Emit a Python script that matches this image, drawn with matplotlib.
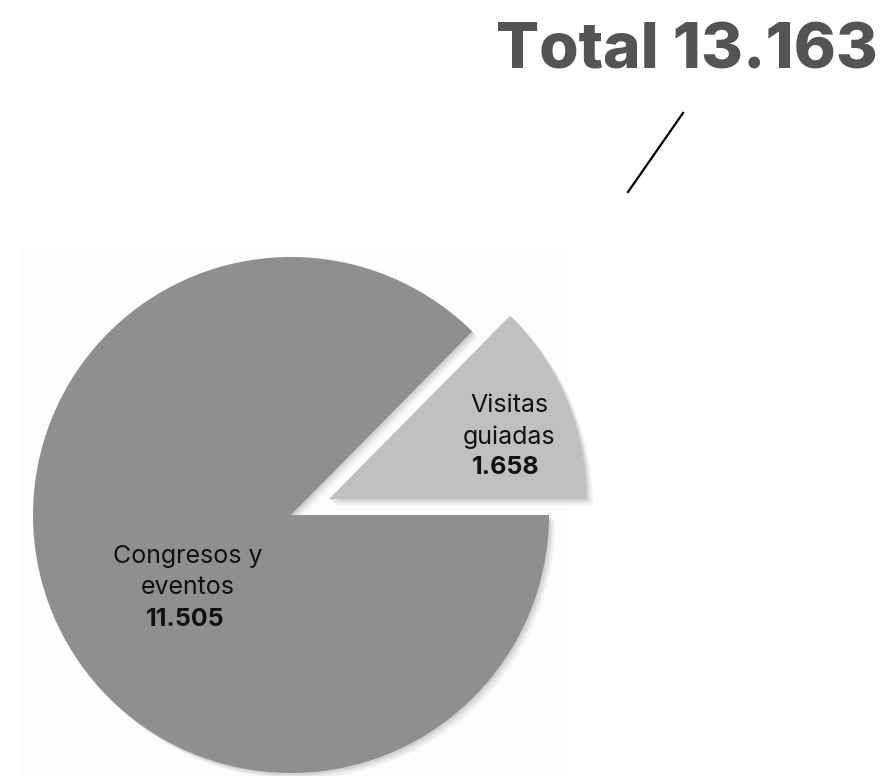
import numpy as np
import matplotlib.pyplot as plt
from matplotlib.patches import Rectangle

# data
labels = ['Visitas\nguiadas', 'Congresos y\neventos']
values = [1658, 11505]
colors = ['#c0c0c0', '#8f8f8f']
total = sum(values)

def fmt(n):
    return f'{n:,}'.replace(',', '.')

W, H = 884, 776
fig = plt.figure(figsize=(W / 100, H / 100), dpi=100)
ax = fig.add_axes([0, 0, 1, 1])
ax.set_xlim(0, W)
ax.set_ylim(0, H)
ax.set_aspect('equal')
ax.axis('off')

# faint panel behind the pie
ax.add_patch(Rectangle((20, 0), 548, H - 246, color='#fdfdfd', zorder=0))

cx, cy, r = 291, H - 515, 258
# soft shadow: a few offset copies
for off, a in [(6, 0.05), (4, 0.07), (2, 0.09)]:
    ax.pie(values, colors=['#303030'] * 2, startangle=0, counterclock=True,
           center=(cx + off, cy - off), radius=r, explode=[41, 0],
           wedgeprops={'linewidth': 0, 'alpha': a})
wedges, _ = ax.pie(values, colors=colors, startangle=0, counterclock=True,
                   center=(cx, cy), radius=r, explode=[41, 0],
                   wedgeprops={'linewidth': 0})
ax.set_xlim(0, W)
ax.set_ylim(0, H)

fnt = ['Inter', 'DejaVu Sans']
# slice labels
pos = [(509, H - 406), (188, H - 557)]
for (x, y), lab, v in zip(pos, labels, values):
    lines = lab.split('\n')
    for k, ln in enumerate(lines):
        ax.text(x, y - 31 * k, ln, ha='center', va='center', fontsize=18,
                color='#111111', family=fnt)
    ax.text(x - 3, y - 31 * len(lines), fmt(v), ha='center', va='center',
            fontsize=18, fontweight='bold', color='#111111', family=fnt)

# title
ax.text(878, H - 52, f'Total {fmt(total)}', ha='right', va='center',
        fontsize=46, fontweight='heavy', color='#545454', family=fnt)
ax.plot([683, 628], [H - 113, H - 192], color='black', lw=1.6)

fig.savefig('out.png', dpi=100)
